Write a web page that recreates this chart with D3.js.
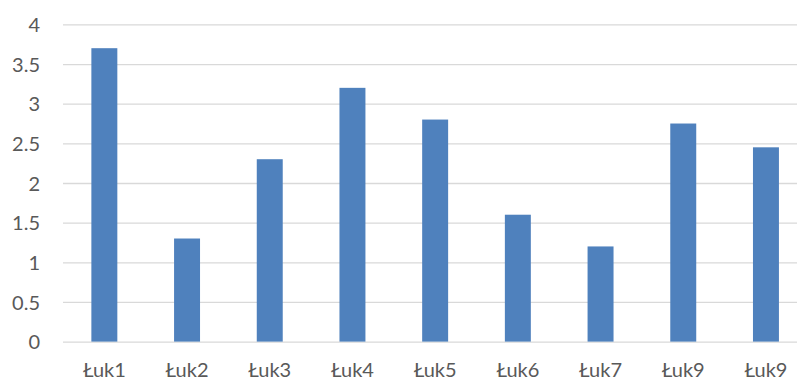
<!DOCTYPE html>
<html><head><meta charset="utf-8">
<script src="https://cdn.jsdelivr.net/npm/d3@7"></script>
<style>
html,body{margin:0;padding:0;background:#fff;}
svg{display:block;}
</style></head>
<body>
<svg id="chart" width="797" height="380"></svg>
<script>
const categories = ["Łuk1","Łuk2","Łuk3","Łuk4","Łuk5","Łuk6","Łuk7","Łuk9","Łuk9"];
const values = [3.7, 1.3, 2.3, 3.2, 2.8, 1.6, 1.2, 2.75, 2.45];
const yTicks = [0, 0.5, 1, 1.5, 2, 2.5, 3, 3.5, 4];

(function () {
const svg = d3.select("#chart");
const W = 797;
const mLeft = 63, mRight = 807.3, mTop = 24.4, mBottom = 341.6;
const font = "Lato, 'Open Sans', sans-serif";
const textColor = "#595959";

const x = d3.scaleBand()
  .domain(categories.map((d, i) => i))
  .range([mLeft, mRight])
  .paddingInner(0.686)
  .paddingOuter(0.343);
const y = d3.scaleLinear().domain([0, 4]).range([mBottom, mTop]);

// gridlines + y labels
const yAxis = d3.axisLeft(y)
  .tickValues(yTicks)
  .tickFormat(d3.format(""))
  .tickSize(-(W - mLeft))
  .tickPadding(23);
const gy = svg.append("g").attr("transform", `translate(${mLeft},0)`).call(yAxis);
gy.select(".domain").remove();
gy.selectAll(".tick line").attr("stroke", "#d9d9d9").attr("stroke-width", 1.3);
gy.selectAll(".tick text")
  .attr("fill", textColor)
  .style("font-family", font)
  .style("font-size", "20px")
  .attr("x", -23)
  .attr("dy", "0.36em");

// bars
svg.append("g").selectAll("rect")
  .data(values)
  .join("rect")
  .attr("x", (d, i) => x(i))
  .attr("width", x.bandwidth())
  .attr("y", d => y(d))
  .attr("height", d => y(0) - y(d))
  .attr("fill", "#4f81bd");

// x axis labels
const xAxis = d3.axisBottom(x).tickSize(0).tickFormat(i => categories[i]).tickPadding(0);
const gx = svg.append("g").attr("transform", `translate(0,${mBottom})`).call(xAxis);
gx.select(".domain").remove();
gx.selectAll(".tick text")
  .attr("fill", textColor)
  .style("font-family", font)
  .style("font-size", "20px")
  .attr("y", 35)
  .attr("dy", 0);
})();
</script>
</body></html>
